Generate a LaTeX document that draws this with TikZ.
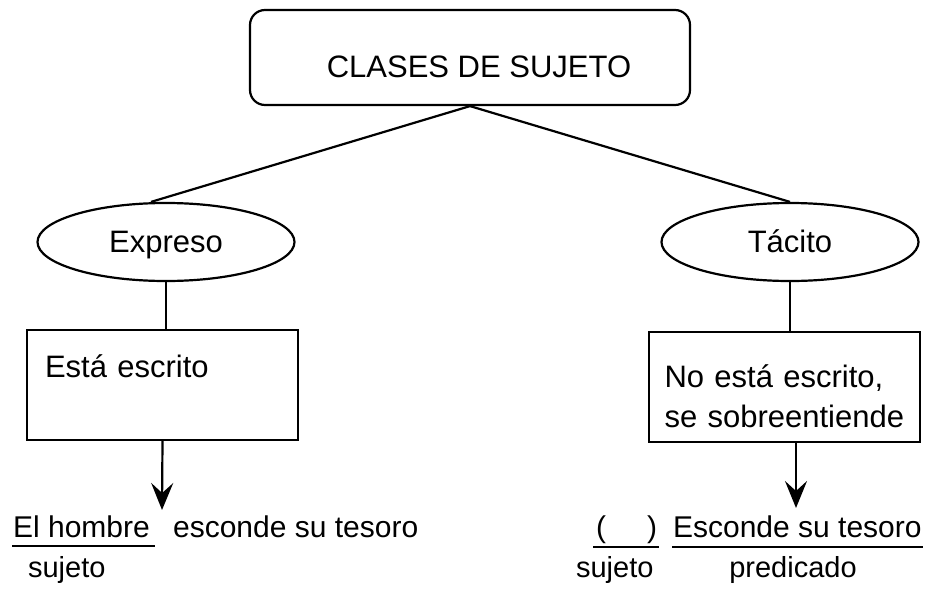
\documentclass[tikz,border=0pt]{standalone}
\usepackage{fontspec}
\setmainfont{Liberation Sans}
\usetikzlibrary{shapes.geometric,arrows.meta}

\tikzset{
  bigtext/.style={font=\fontsize{31}{40}\selectfont},
  titlebox/.style={draw, rounded corners=15pt, minimum width=440pt, inner sep=0pt,
    text height=67pt, text depth=28pt, bigtext},
  kind/.style={draw, ellipse, minimum width=257pt, minimum height=78pt, inner sep=0pt,
    text height=22pt, text depth=2pt, bigtext},
  defbox/.style={draw, rectangle, minimum width=271pt, align=left, inner sep=0pt, bigtext},
  sentence/.style={inner sep=0pt, anchor=base west, font=\fontsize{30}{36}\selectfont},
  role/.style={inner sep=0pt, anchor=base, font=\fontsize{29}{36}\selectfont},
  pointer/.style={-{Stealth[length=27pt,width=22pt,inset=10pt]}}
}

\begin{document}
\begin{tikzpicture}[x=1pt,y=-1pt,line width=2.2pt]
        \useasboundingbox (0,0) rectangle (931,589);

        % top and the two kinds
        \node[titlebox] (clases) at (470,57.5) {\hspace*{18pt}CLASES DE SUJETO};
        \node[kind] (expreso) at (166,242) {Expreso};
        \node[kind] (tacito) at (790,242) {Tácito};

        \draw (clases.south) -- ([xshift=-15pt]expreso.north);
        \draw (clases.south) -- (tacito.north);

        % definitions
        \node[defbox, text width=235pt, text height=47pt, text depth=63pt] (escrito) at (162.5,385) {Está escrito};
        \node[defbox, text width=240pt, text height=55pt, text depth=55pt] (sobre) at (784.5,387) {No está escrito,\\se sobreentiende};

        \draw (expreso.south) -- (expreso.south |- escrito.north);
        \draw (tacito.south) -- (tacito.south |- sobre.north);

        % examples
        \coordinate (tipA) at (162,510);
        \coordinate (tipB) at (796,508);
        \draw[pointer] (escrito.south) -- (tipA);
        \draw[pointer] (sobre.south -| tipB) -- (tipB);

        \node[sentence] (hombre) at (12,537) {El hombre};
        \node[sentence] (esconde) at (172,537) {esconde su tesoro};
        \node[role, anchor=base west] (sujA) at (27,577) {sujeto};
        \draw ([yshift=-9pt]hombre.base west) -- ([yshift=-9pt,xshift=4pt]hombre.base east);

        \node[sentence] (hueco) at (595,537) {(\hspace{41pt})};
        \node[sentence] (escondeB) at (672,537) {Esconde su tesoro};
        \node[role, anchor=base west] (sujB) at (575,577) {sujeto};
        \node[role] (predicado) at (793,577) {predicado};
        \draw ([yshift=-10pt,xshift=-2pt]hueco.base west) -- ([yshift=-10pt,xshift=1pt]hueco.base east);
        \draw ([yshift=-10pt]escondeB.base west) -- ([yshift=-10pt]escondeB.base east);

    \end{tikzpicture}
\end{document}
